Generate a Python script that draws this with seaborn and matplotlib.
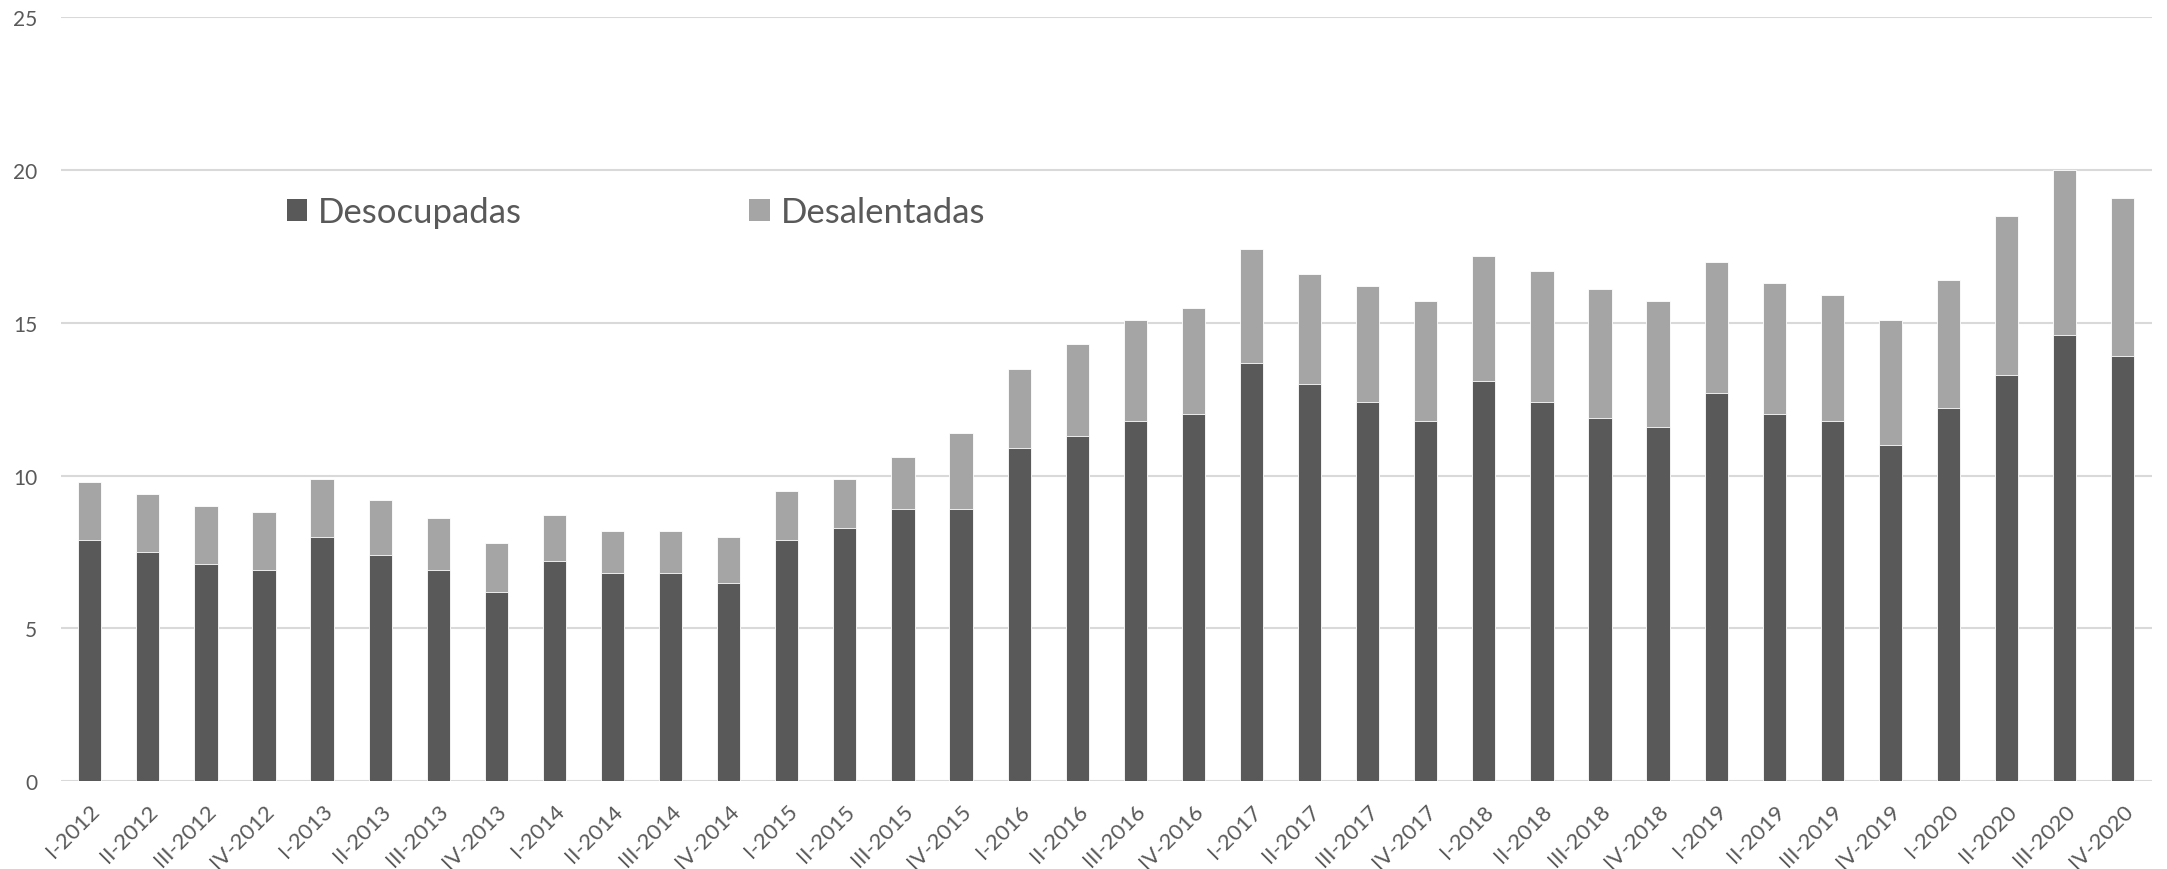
import matplotlib
matplotlib.use("Agg")
import matplotlib.pyplot as plt
import seaborn as sns
import pandas as pd
from matplotlib.patches import Patch

trimestres = [
    "I-2012", "II-2012", "III-2012", "IV-2012",
    "I-2013", "II-2013", "III-2013", "IV-2013",
    "I-2014", "II-2014", "III-2014", "IV-2014",
    "I-2015", "II-2015", "III-2015", "IV-2015",
    "I-2016", "II-2016", "III-2016", "IV-2016",
    "I-2017", "II-2017", "III-2017", "IV-2017",
    "I-2018", "II-2018", "III-2018", "IV-2018",
    "I-2019", "II-2019", "III-2019", "IV-2019",
    "I-2020", "II-2020", "III-2020", "IV-2020",
]

desocupadas = [
    7.9, 7.5, 7.1, 6.9,
    8.0, 7.4, 6.9, 6.2,
    7.2, 6.8, 6.8, 6.5,
    7.9, 8.3, 8.9, 8.9,
    10.9, 11.3, 11.8, 12.0,
    13.7, 13.0, 12.4, 11.8,
    13.1, 12.4, 11.9, 11.6,
    12.7, 12.0, 11.8, 11.0,
    12.2, 13.3, 14.6, 13.9,
]

desalentadas = [
    1.9, 1.9, 1.9, 1.9,
    1.9, 1.8, 1.7, 1.6,
    1.5, 1.4, 1.4, 1.5,
    1.6, 1.6, 1.7, 2.5,
    2.6, 3.0, 3.3, 3.5,
    3.7, 3.6, 3.8, 3.9,
    4.1, 4.3, 4.2, 4.1,
    4.3, 4.3, 4.1, 4.1,
    4.2, 5.2, 5.4, 5.2,
]

y_ticks = [0, 5, 10, 15, 20, 25]

COLOR_DESOC = "#595959"
COLOR_DESAL = "#A5A5A5"
TEXT_COLOR = "#595959"
GRID_COLOR = "#D9D9D9"

df = pd.DataFrame({
    "trimestre": trimestres,
    "Desocupadas": desocupadas,
    "Desalentadas": desalentadas,
})
df["total"] = df["Desocupadas"] + df["Desalentadas"]

sns.set_theme(style="white")
plt.rcParams["font.family"] = ["Lato", "DejaVu Sans"]

fig = plt.figure(figsize=(21.67, 8.70), dpi=100)
ax = fig.add_axes([0.028, 0.101, 0.965, 0.878])

# stacked bars: full height in light grey, lower segment in dark grey
sns.barplot(data=df, x="trimestre", y="total", color=COLOR_DESAL,
            width=0.4, saturation=1, ax=ax, zorder=3,
            edgecolor="white", linewidth=0.6)
sns.barplot(data=df, x="trimestre", y="Desocupadas", color=COLOR_DESOC,
            width=0.4, saturation=1, ax=ax, zorder=4,
            edgecolor="white", linewidth=0.6)

ax.set_xlim(-0.5, len(trimestres) - 0.5)
ax.set_ylim(0, 25)
ax.set_yticks(y_ticks)
ax.set_yticklabels([str(t) for t in y_ticks])
ax.set_xlabel("")
ax.set_ylabel("")

ax.yaxis.grid(True, color=GRID_COLOR, linewidth=1.5, zorder=0)
ax.xaxis.grid(False)
ax.set_axisbelow(True)
for s in ax.spines.values():
    s.set_visible(False)

ax.tick_params(axis="y", length=0, pad=17, labelsize=15, labelcolor=TEXT_COLOR)
ax.tick_params(axis="x", length=0, pad=14, labelsize=16, labelcolor=TEXT_COLOR)
plt.setp(ax.get_xticklabels(), rotation=45, ha="right", rotation_mode="anchor")

handles = [Patch(facecolor=COLOR_DESOC, edgecolor="none", label="Desocupadas"),
           Patch(facecolor=COLOR_DESAL, edgecolor="none", label="Desalentadas")]
leg = ax.legend(handles=handles, loc="center left", bbox_to_anchor=(0.108, 0.745),
                ncol=2, frameon=False, fontsize=25, handlelength=0.6,
                handleheight=0.6, handletextpad=0.3, columnspacing=6.55,
                borderaxespad=0, borderpad=0)
for t in leg.get_texts():
    t.set_color(TEXT_COLOR)

fig.savefig("out.png", dpi=100, facecolor="white")
